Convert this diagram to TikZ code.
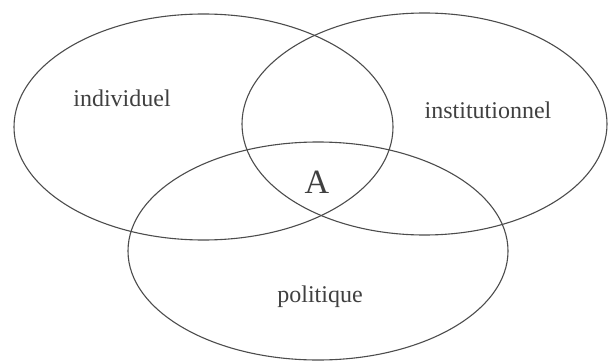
\documentclass[tikz,border=0pt]{standalone}
\usepackage{fontspec}
\setmainfont{Liberation Serif}
\begin{document}
\begin{tikzpicture}[x=1pt,y=-1pt,
  setline/.style={draw=black!70,line width=1.1pt},
  lbl/.style={text=black!75,font=\fontsize{24}{28}\selectfont,inner sep=0pt}]
\useasboundingbox (0,0) rectangle (612,361);
\draw[setline] (203.5,127) ellipse [x radius=189.5, y radius=113];
\draw[setline] (424.5,124) ellipse [x radius=182.5, y radius=111];
\draw[setline] (318,251) ellipse [x radius=190, y radius=109];
\node[lbl] (ind) at (122,98) {individuel};
\node[lbl] (ins) at (488,110) {institutionnel};
\node[lbl,font=\fontsize{34}{38}\selectfont] (A) at (317,182) {A};
\node[lbl] (pol) at (320,297) {politique};
\end{tikzpicture}
\end{document}
